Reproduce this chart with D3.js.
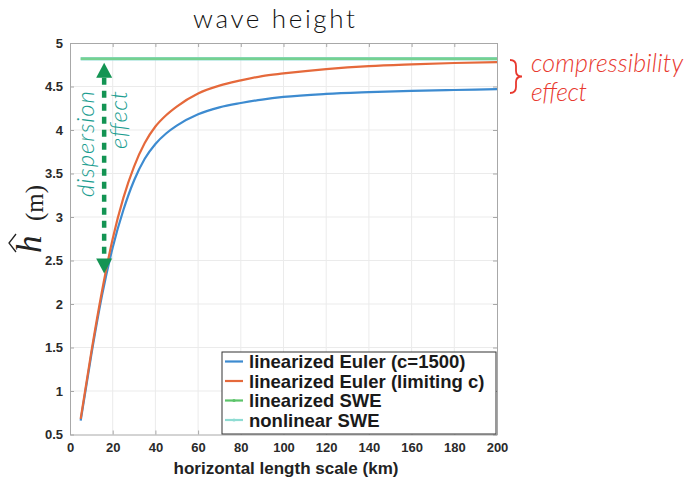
<!DOCTYPE html>
<html>
<head>
<meta charset="utf-8">
<script src="https://cdn.jsdelivr.net/npm/d3@7"></script>
<style>
  html, body { margin: 0; padding: 0; background: #fff; }
  svg { display: block; }
</style>
</head>
<body>
<svg id="chart" width="686" height="482"></svg>
<script>
// ---------------- data ----------------
const xTicks = [0, 20, 40, 60, 80, 100, 120, 140, 160, 180, 200];
const yTicks = [0.5, 1, 1.5, 2, 2.5, 3, 3.5, 4, 4.5, 5];
const yTickLabels = ["0.5", "1", "1.5", "2", "2.5", "3", "3.5", "4", "4.5", "5"];

const lengthKm = [5, 10, 15, 20, 25, 30, 35, 40, 45, 50, 60, 70, 80, 90, 100, 120, 140, 160, 180, 200];
const eulerC1500 = [0.66, 1.42, 2.10, 2.65, 3.08, 3.42, 3.67, 3.84, 3.96, 4.05, 4.18, 4.26, 4.31, 4.35, 4.38, 4.415, 4.435, 4.45, 4.46, 4.47];
const eulerLimiting = [0.68, 1.45, 2.15, 2.75, 3.22, 3.58, 3.85, 4.04, 4.17, 4.27, 4.42, 4.51, 4.57, 4.62, 4.65, 4.70, 4.735, 4.755, 4.77, 4.78];
const sweLength = [5, 200];
const linearSWE = [4.82, 4.82];
const nonlinearSWE = [4.82, 4.82];

const legendLabels = ["linearized Euler (c=1500)", "linearized Euler (limiting c)", "linearized SWE", "nonlinear SWE"];
const seriesColors = ["#3d8bd0", "#e5693b", "#5cc46a", "#8fdcd3"];

const titleText = "wave height";
const xTitle = "horizontal length scale (km)";
const dispersionArrow = [4.82, 2.35];   // arrow end values at x = 16
const dispersionX = 16;

// ---------------- layout ----------------
const svg = d3.select("#chart");
const x = d3.scaleLinear().domain([0, 200]).range([70, 497]);
const y = d3.scaleLinear().domain([0.5, 5]).range([434.5, 43]);

const fitText = (sel, w) => sel.attr("textLength", w).attr("lengthAdjust", "spacing");
const lightFont = "Lato, Open Sans, Liberation Sans, sans-serif";
const boldFont = "Liberation Sans, Arial, sans-serif";

// grid
const grid = svg.append("g");
grid.selectAll(".gx").data(xTicks.slice(1, -1)).join("line")
  .attr("x1", d => x(d)).attr("x2", d => x(d))
  .attr("y1", y(0.5)).attr("y2", y(5))
  .attr("stroke", "#ebebeb").attr("stroke-width", 1);
grid.selectAll(".gy").data(yTicks.slice(1, -1)).join("line")
  .attr("x1", x(0)).attr("x2", x(200))
  .attr("y1", d => y(d)).attr("y2", d => y(d))
  .attr("stroke", "#ebebeb").attr("stroke-width", 1);

// axes
const axisStyle = g => {
  g.select(".domain").attr("stroke", "#a8a8a8");
  g.selectAll(".tick line").attr("stroke", "#a8a8a8");
};
const labelStyle = g => g.selectAll("text").attr("font-family", boldFont)
  .attr("font-weight", "bold").attr("font-size", 13).attr("fill", "#2a2a2a");
svg.append("g").attr("transform", `translate(0,${y(0.5)})`)
  .call(d3.axisBottom(x).tickValues(xTicks).tickSizeInner(-4).tickSizeOuter(0).tickPadding(8))
  .call(axisStyle).call(labelStyle);
svg.append("g").attr("transform", `translate(0,${y(5)})`)
  .call(d3.axisTop(x).tickValues(xTicks).tickSizeInner(-4).tickSizeOuter(0).tickFormat(""))
  .call(axisStyle);
svg.append("g").attr("transform", `translate(${x(0)},0)`)
  .call(d3.axisLeft(y).tickValues(yTicks).tickFormat((d, i) => yTickLabels[i]).tickSizeInner(-4).tickSizeOuter(0).tickPadding(7))
  .call(axisStyle).call(labelStyle);
svg.append("g").attr("transform", `translate(${x(200)},0)`)
  .call(d3.axisRight(y).tickValues(yTicks).tickSizeInner(-4).tickSizeOuter(0).tickFormat(""))
  .call(axisStyle);

// lines
const line = d3.line().x(d => x(d[0])).y(d => y(d[1])).curve(d3.curveMonotoneX);
const plot = svg.append("g");
plot.append("path").datum(sweLength.map((v, i) => [v, nonlinearSWE[i]]))
  .attr("d", line).attr("fill", "none").attr("stroke", seriesColors[3]).attr("stroke-width", 3.5);
plot.append("path").datum(sweLength.map((v, i) => [v, linearSWE[i]]))
  .attr("d", line).attr("fill", "none").attr("stroke", "#72cf84").attr("stroke-width", 2.5).attr("opacity", 0.85);
plot.append("path").datum(lengthKm.map((v, i) => [v, eulerC1500[i]]))
  .attr("d", line).attr("fill", "none").attr("stroke", seriesColors[0]).attr("stroke-width", 2.2);
plot.append("path").datum(lengthKm.map((v, i) => [v, eulerLimiting[i]]))
  .attr("d", line).attr("fill", "none").attr("stroke", seriesColors[1]).attr("stroke-width", 2.2);

// dispersion arrow
const arrowColor = "#139453";
const ax = x(dispersionX);
const yTop = y(dispersionArrow[0]) + 4, yBot = y(dispersionArrow[1]);
svg.append("line").attr("x1", ax).attr("x2", ax).attr("y1", yTop + 15).attr("y2", yBot - 15)
  .attr("stroke", arrowColor).attr("stroke-width", 4.5).attr("stroke-dasharray", "7,6");
svg.append("path").attr("d", `M${ax},${yTop} L${ax - 8},${yTop + 15} L${ax + 8},${yTop + 15} Z`).attr("fill", arrowColor);
svg.append("path").attr("d", `M${ax},${yBot} L${ax - 8},${yBot - 15} L${ax + 8},${yBot - 15} Z`).attr("fill", arrowColor);

const teal = "#1a9d90";
const dtxt = svg.append("text").attr("transform", "translate(94,91) rotate(-90)")
  .attr("text-anchor", "end").attr("font-family", lightFont)
  .attr("font-weight", 300).attr("font-style", "italic").attr("font-size", 24).attr("fill", teal)
  .text("dispersion");
fitText(dtxt, 106);
const etxt = svg.append("text").attr("transform", "translate(127,91) rotate(-90)")
  .attr("text-anchor", "end").attr("font-family", lightFont)
  .attr("font-weight", 300).attr("font-style", "italic").attr("font-size", 24).attr("fill", teal)
  .text("effect");
fitText(etxt, 58);

// compressibility annotation
const red = "#e8392f";
svg.append("path")
  .attr("d", "M510,60 Q516,60 516,66 L516,71 Q516,76.5 522,76.5 Q516,76.5 516,82 L516,87 Q516,93 510,93")
  .attr("fill", "none").attr("stroke", red).attr("stroke-width", 1.8);
const c1 = svg.append("text").attr("x", 531).attr("y", 72)
  .attr("font-family", lightFont).attr("font-weight", 300)
  .attr("font-style", "italic").attr("font-size", 25).attr("fill", red).text("compressibility");
fitText(c1, 152);
const c2 = svg.append("text").attr("x", 531).attr("y", 101)
  .attr("font-family", lightFont).attr("font-weight", 300)
  .attr("font-style", "italic").attr("font-size", 25).attr("fill", red).text("effect");
fitText(c2, 56);

// title
const t = svg.append("text").attr("x", 274).attr("y", 28).attr("text-anchor", "middle")
  .attr("font-family", lightFont).attr("font-weight", 300)
  .attr("font-size", 26).attr("fill", "#111").text(titleText);
fitText(t, 162);

// x title
svg.append("text").attr("x", 286).attr("y", 474).attr("text-anchor", "middle")
  .attr("font-family", boldFont).attr("font-weight", "bold")
  .attr("font-size", 17).attr("fill", "#222").text(xTitle);

// y title (h-hat (m))
const yl = svg.append("g").attr("transform", "translate(41,253) rotate(-90)");
yl.append("text").attr("x", 0).attr("y", 0)
  .attr("font-family", "Liberation Serif, DejaVu Serif, serif").attr("font-style", "italic")
  .attr("font-size", 35).attr("fill", "#222").text("h");
yl.append("path").attr("d", "M1,-25 L10,-32 L19,-25").attr("fill", "none")
  .attr("stroke", "#222").attr("stroke-width", 1.3);
yl.append("text").attr("x", 32).attr("y", 2)
  .attr("font-family", "Liberation Serif, DejaVu Serif, serif")
  .attr("font-size", 25).attr("fill", "#222").text("(m)");

// legend
const lg = svg.append("g");
lg.append("rect").attr("x", 222).attr("y", 352).attr("width", 274).attr("height", 82)
  .attr("fill", "#fff").attr("stroke", "#333").attr("stroke-width", 1);
legendLabels.forEach((lab, i) => {
  const cy = 361.5 + i * 19.5;
  lg.append("line").attr("x1", 225).attr("x2", 243).attr("y1", cy).attr("y2", cy)
    .attr("stroke", seriesColors[i]).attr("stroke-width", 2.2);
  if (i >= 2) lg.append("circle").attr("cx", 234).attr("cy", cy).attr("r", 1.6).attr("fill", seriesColors[i]);
  lg.append("text").attr("x", 249).attr("y", cy + 6.5)
    .attr("font-family", boldFont).attr("font-weight", "bold")
    .attr("font-size", 18.5).attr("fill", "#1a1a1a").text(lab);
});
</script>
</body>
</html>
